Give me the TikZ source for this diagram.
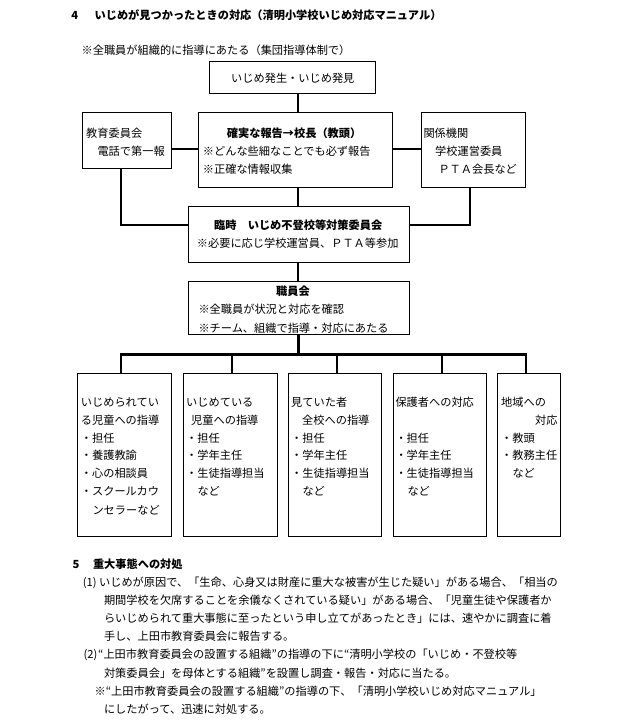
\documentclass[tikz,border=0pt]{standalone}
\usepackage{fontspec}
\setmainfont{Noto Sans CJK JP}
\begin{document}
\begin{tikzpicture}[x=1pt,y=-1pt,
  box/.style={draw, line width=0.9pt, inner sep=0pt, anchor=north west},
  tx/.style={anchor=west, inner sep=0pt, font=\fontsize{11.2}{13}\selectfont, text height=0.88em, text depth=0.12em},
  bx/.style={tx, font=\fontsize{11.2}{13}\selectfont\bfseries},
  conn/.style={line width=1.7pt},
  thk/.style={line width=2.4pt, line join=miter}]
\useasboundingbox (0,0) rectangle (635,724);

% boxes
\node[box, minimum width=165.7pt, minimum height=32.6pt] (A) at (209.3,60.7) {};
\node[box, minimum width=88.7pt, minimum height=56pt] (B) at (82.3,112.3) {};
\node[box, minimum width=194pt, minimum height=75pt] (C) at (198.3,112.3) {};
\node[box, minimum width=104.6pt, minimum height=75pt] (D) at (420.7,112.3) {};
\node[box, minimum width=221.6pt, minimum height=56.6pt] (E) at (187.7,205.7) {};
\node[box, minimum width=221.6pt, minimum height=53.6pt] (F) at (187.7,280.7) {};
\node[box, minimum width=93.7pt, minimum height=162.7pt] (G1) at (77.3,373.3) {};
\node[box, minimum width=94pt, minimum height=162.7pt] (G2) at (182.7,373.3) {};
\node[box, minimum width=93.6pt, minimum height=162.7pt] (G3) at (287.7,373.3) {};
\node[box, minimum width=93.6pt, minimum height=162.7pt] (G4) at (392.7,373.3) {};
\node[box, minimum width=62.7pt, minimum height=162.7pt] (G5) at (497.3,373.3) {};

% connectors
\coordinate (mx) at (298.3,0);
\coordinate (hy) at (0,149.3);
\coordinate (eb) at (121,225);
\coordinate (ed) at (469.7,225);
\coordinate (d1) at (121,354.3);
\coordinate (d2) at (232,354.3);
\coordinate (d3) at (337,354.3);
\coordinate (d4) at (442,354.3);
\coordinate (d5) at (525.7,354.3);
\draw[conn] (A.south -| mx) -- (C.north -| mx);
\draw[conn] (B.east |- hy) -- (C.west |- hy);
\draw[conn] (C.east |- hy) -- (D.west |- hy);
\draw[conn] (C.south -| mx) -- (E.north -| mx);
\draw[thk] (B.south -| eb) -- (eb) -- (eb -| E.west);
\draw[thk] (D.south -| ed) -- (ed) -- (ed -| E.east);
\draw[conn] (E.south -| mx) -- (F.north -| mx);
\draw[thk] (F.south -| mx) -- (d1 -| mx);
\draw[thk] (G1.north -| d1) -- (d1) -- (d5) -- (G5.north -| d5);
\draw[thk] (d2) -- (G2.north -| d2);
\draw[thk] (d3) -- (G3.north -| d3);
\draw[thk] (d4) -- (G4.north -| d4);

% heading
\node[bx] (t0) at (71.2,16) {4};
\node[bx] (t1) at (94.4,16) {いじめが見つかったときの対応（清明小学校いじめ対応マニュアル）};
\node[tx] (t2) at (81.4,51) {※全職員が組織的に指導にあたる（集団指導体制で）};

% box texts
\node[tx] (ta) at (231,78.3) {いじめ発生・いじめ発見};
\node[tx] (tb1) at (86,133.3) {教育委員会};
\node[tx] (tb2) at (97.3,151.7) {電話で第一報};
\node[bx] (tc1) at (226.7,133.3) {確実な報告→校長（教頭）};
\node[tx] (tc2) at (202.7,151.7) {※どんな些細なことでも必ず報告};
\node[tx] (tc3) at (202.7,169.7) {※正確な情報収集};
\node[tx] (td1) at (423.3,133.3) {関係機関};
\node[tx] (td2) at (435,151.7) {学校運営委員};
\node[tx] (td3) at (438.3,169.7) {ＰＴＡ会長など};
\node[bx] (te1) at (214,226) {臨時　いじめ不登校等対策委員会};
\node[tx] (te2) at (196.7,244) {※必要に応じ学校運営員、ＰＴＡ等参加};
\node[bx] (tf1) at (276,291.7) {職員会};
\node[tx] (tf2) at (198.3,310) {※全職員が状況と対応を確認};
\node[tx] (tf3) at (198.3,328.3) {※チーム、組織で指導・対応にあたる};

% G1
\node[tx] (g11) at (80.7,402.7) {いじめられてい};
\node[tx] (g12) at (80.7,420.7) {る児童への指導};
\node[tx] (g13) at (80.7,438.3) {・担任};
\node[tx] (g14) at (80.7,456) {・養護教諭};
\node[tx] (g15) at (80.7,474) {・心の相談員};
\node[tx] (g16) at (80.7,492) {・スクールカウ};
\node[tx] (g17) at (92.3,510.3) {ンセラーなど};
% G2
\node[tx] (g21) at (186,402.7) {いじめている};
\node[tx] (g22) at (191,420.7) {児童への指導};
\node[tx] (g23) at (186,438.3) {・担任};
\node[tx] (g24) at (186,456) {・学年主任};
\node[tx] (g25) at (186,474) {・生徒指導担当};
\node[tx] (g26) at (197.3,492) {など};
% G3
\node[tx] (g31) at (291,402.7) {見ていた者};
\node[tx] (g32) at (302,420.7) {全校への指導};
\node[tx] (g33) at (291,438.3) {・担任};
\node[tx] (g34) at (291,456) {・学年主任};
\node[tx] (g35) at (291,474) {・生徒指導担当};
\node[tx] (g36) at (302.3,492) {など};
% G4
\node[tx] (g41) at (395.3,402.7) {保護者への対応};
\node[tx] (g43) at (395.3,438.3) {・担任};
\node[tx] (g44) at (395.3,456) {・学年主任};
\node[tx] (g45) at (395.3,474) {・生徒指導担当};
\node[tx] (g46) at (407.3,492) {など};
% G5
\node[tx] (g51) at (501,402.7) {地域への};
\node[tx, anchor=east] (g52) at (557.7,420.7) {対応};
\node[tx] (g53) at (501,438.3) {・教頭};
\node[tx] (g54) at (501,456) {・教務主任};
\node[tx] (g55) at (512.3,474) {など};

% section 5
\node[bx] (s0) at (72.4,564.3) {5};
\node[bx] (s1) at (92.8,564.3) {重大事態への対処};
\node[tx] (s2) at (82.6,582.7) {(1)};
\node[tx] (s3) at (98.9,582.7) {いじめが原因で、「生命、心身又は財産に重大な被害が生じた疑い」がある場合、「相当の};
\node[tx] (s4) at (103.8,601) {期間学校を欠席することを余儀なくされている疑い」がある場合、「児童生徒や保護者か};
\node[tx] (s5) at (103.8,619) {らいじめられて重大事態に至ったという申し立てがあったとき」には、速やかに調査に着};
\node[tx] (s6) at (103.8,637) {手し、上田市教育委員会に報告する。};
\node[tx] (s7) at (83.4,655) {(2)};
\node[tx] (s8) at (98,655) {“上田市教育委員会の設置する組織”の指導の下に“清明小学校の「いじめ・不登校等};
\node[tx] (s9) at (103.8,673.3) {対策委員会」を母体とする組織”を設置し調査・報告・対応に当たる。};
\node[tx] (s10) at (94.4,691.7) {※“上田市教育委員会の設置する組織”の指導の下、「清明小学校いじめ対応マニュアル」};
\node[tx] (s11) at (103.8,710) {にしたがって、迅速に対処する。};
\end{tikzpicture}
\end{document}
